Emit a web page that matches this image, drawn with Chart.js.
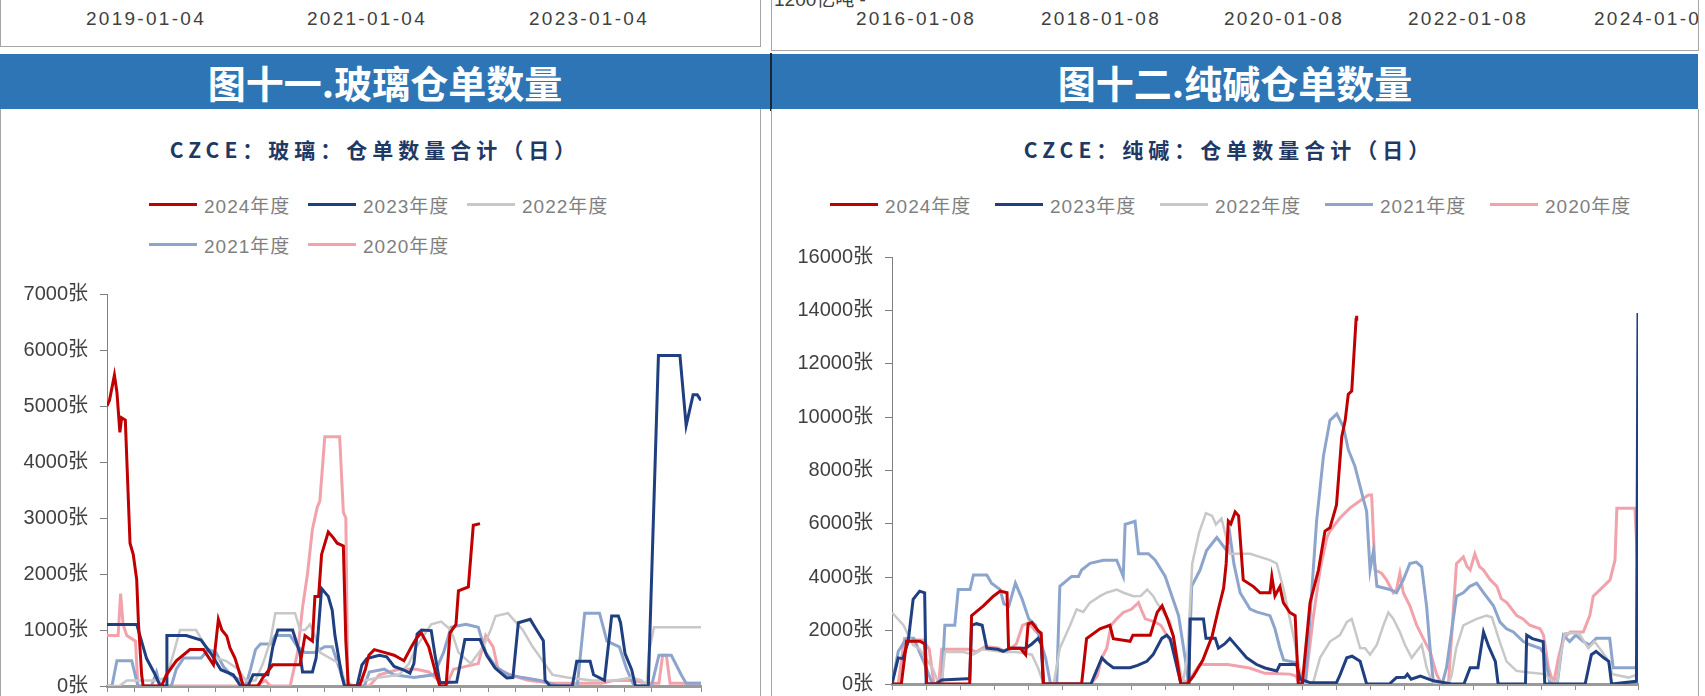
<!DOCTYPE html>
<html>
<head>
<meta charset="utf-8">
<script src="https://cdn.jsdelivr.net/npm/chart.js@4.4.1/dist/chart.umd.min.js"></script>
<style>
  body { margin: 0; width: 1705px; height: 696px; overflow: hidden; background: #fff; position: relative;
         font-family: "Liberation Sans", "Noto Sans CJK SC", sans-serif; }
  .box { position: absolute; border: 1px solid #a6a6a6; box-sizing: border-box; background: #fff; overflow: hidden; }
  .date { position: absolute; top: 27px; font-size: 19px; letter-spacing: 2.3px; color: #404040;
          transform: translateX(-50%); white-space: nowrap; }
  .bar { position: absolute; top: 54px; height: 55px; background: #2e75b6; color: #fff;
         font: bold 38px "Noto Sans CJK SC", sans-serif; display: flex; align-items: center; justify-content: center; }
  .ctitle { position: absolute; top: 134px; transform: translateX(-50%); white-space: nowrap;
            font: bold 21px "Noto Sans CJK SC", serif; letter-spacing: 5px; color: #1f3864; }
  .leg { position: absolute; height: 24px; display: flex; align-items: center; white-space: nowrap; }
  .leg i { display: inline-block; width: 48px; height: 3px; margin-right: 7px; }
  .leg span { font-size: 19px; letter-spacing: 1px; color: #808080; }
  canvas { position: absolute; }
</style>
</head>
<body>

<!-- previous figures, cut off at the top -->
<div class="box" style="left:0;top:-20px;width:761px;height:67px;">
  <div class="date" style="left:145px">2019-01-04</div>
  <div class="date" style="left:366px">2021-01-04</div>
  <div class="date" style="left:588px">2023-01-04</div>
</div>
<div class="box" style="left:771px;top:-20px;width:928px;height:71px;">
  <div class="date" style="left:2px;top:3px;transform:none;letter-spacing:0;">1200亿吨 -</div>
  <div class="date" style="left:144px">2016-01-08</div>
  <div class="date" style="left:329px">2018-01-08</div>
  <div class="date" style="left:512px">2020-01-08</div>
  <div class="date" style="left:696px">2022-01-08</div>
  <div class="date" style="left:882px">2024-01-08</div>
</div>

<!-- section headers -->
<div class="bar" style="left:0;width:770px;">图十一.玻璃仓单数量</div>
<div class="bar" style="left:772px;width:926px;">图十二.纯碱仓单数量</div>
<div style="position:absolute;left:770px;top:53px;width:2px;height:58px;background:#1b2633;"></div>

<!-- chart panels -->
<div class="box" style="left:0;top:109px;width:761px;height:620px;border-top:none;"></div>
<div class="box" style="left:771px;top:109px;width:928px;height:620px;border-top:none;"></div>

<div class="ctitle" style="left:375px">CZCE：玻璃：仓单数量合计（日）</div>
<div class="ctitle" style="left:1229px">CZCE：纯碱：仓单数量合计（日）</div>

<div id="legend-glass"></div>
<div id="legend-soda"></div>

<canvas id="chart-glass" width="704" height="440" style="left:0;top:270px;"></canvas>
<canvas id="chart-soda" width="870" height="475" style="left:772px;top:233px;"></canvas>

<script>
// ============================================================
//  玻璃 / 纯碱 仓单数量 — seasonal charts (x = trading day of season)
// ============================================================

// ---- Series names & colours ----
const seasonNames = ['2024年度', '2023年度', '2022年度', '2021年度', '2020年度'];
const seasonColors = ['#c00000', '#1f3f80', '#c8c8c8', '#8da5cd', '#f2a2ab'];
const seasonWidths = [3, 3, 2.5, 3, 3];

// ---- Glass (玻璃) — [day, 张] ----
const glass2024 = [[0,5000],[1,5100],[3,5550],[4,5250],[5.2,4530],[5.9,4790],[7.4,4750],[9.3,2550],[10.6,2350],[12,1900],[12.7,1130],[14,200],[14.6,0],[22,0],[24,200],[28,450],[33.5,650],[39,650],[43,380],[45,1190],[46.4,1000],[48.4,890],[49.7,680],[51.7,500],[53.7,215],[55,0],[61,0],[63,150],[67,380],[78,380],[80,900],[83,800],[84,1600],[85.5,1600],[86.7,2350],[89.4,2750],[91.4,2650],[93,2550],[95.5,2500],[96.5,800],[97.5,0],[102,0],[104.4,300],[105.8,550],[108,650],[112,600],[116,550],[120,450],[123,700],[125,850],[127,950],[130,700],[133,200],[134.5,0],[137,0],[138.6,950],[141,1100],[142,1700],[146,1770],[148,2870],[150.7,2900]];
const glass2023 = [[0,1100],[12,1100],[16,490],[19.5,200],[21.5,0],[24,0],[24.2,900],[32,900],[38,820],[42,580],[46,290],[51,200],[54,0],[57,0],[59,200],[65,200],[67,700],[69,1000],[75,1000],[78,580],[79,250],[83,250],[84.5,500],[86.7,1740],[89.4,1600],[91,1350],[92.1,900],[94.8,200],[96,0],[101,0],[103,375],[105,490],[110,550],[113,520],[116,350],[119.7,290],[122.4,230],[124,400],[125.3,930],[127.1,1000],[131,990],[132.5,560],[134.5,60],[141.3,70],[144.6,830],[150.7,830],[153.4,550],[156.8,320],[161.5,145],[164,150],[166.2,1130],[171,1190],[173.6,1000],[176.3,810],[177,105],[179,0],[188,0],[189.8,440],[195.2,440],[196.6,200],[201,100],[203.9,1250],[206.6,1250],[207.5,1130],[209.3,580],[212,290],[213.5,0],[218.7,0],[222.8,5900],[231.5,5900],[234,4650],[236.8,5200],[238.5,5200],[240,5100]];
const glass2022 = [[0,0],[5,0],[8,100],[20,100],[24,150],[27,600],[29.5,1000],[36,1000],[40,700],[44,500],[48,450],[53,300],[56,100],[60,100],[63,400],[66,800],[68,1300],[76,1300],[78,1000],[80,1000],[82,1100],[84,900],[86,600],[90,500],[94,400],[96,100],[100,0],[104,100],[110,150],[118,200],[122,400],[125,700],[128,900],[131,1100],[135,1150],[139,1000],[142,600],[147,400],[152,700],[155,1000],[157,1250],[162,1300],[164,1200],[168,1000],[172,700],[176,450],[180,200],[186,150],[196,100],[205,100],[212,150],[216,100],[218,0],[219,600],[221,1050],[240,1050]];
const glass2021 = [[0,0],[2,0],[4,450],[10,450],[12.5,0],[18,0],[20,250],[21.5,0],[26,0],[28,300],[31,500],[38,500],[41,650],[44,600],[47,350],[50,200],[54,100],[56,0],[58,300],[60,650],[62,750],[66,750],[68,900],[74,900],[77,700],[80,600],[84,600],[88,700],[91,700],[94,300],[96,0],[104,0],[106,250],[112,300],[116,200],[124,150],[132,200],[136,600],[139,1050],[145,1100],[150,1050],[153,600],[157,350],[162,200],[168,150],[175,100],[182,0],[190,0],[193,1300],[199,1300],[202,800],[207,700],[210,300],[213,0],[220,0],[223,550],[228,550],[232,200],[234,50],[240,50]];
const glass2020 = [[0,900],[4.5,900],[5.5,1650],[6.5,1100],[8,900],[11.5,800],[12.5,0],[60,0],[64,100],[66,0],[74,0],[77,600],[79,1400],[81,2000],[83,2800],[85,3200],[86,3300],[88,4450],[94,4450],[95.5,3100],[96.5,3000],[97.3,0],[106,0],[110,200],[118,300],[125,300],[130,250],[134,100],[137,0],[140,300],[145,350],[150,400],[153,900],[156,700],[158,300],[163,200],[170,100],[180,50],[200,50],[205,100],[212,100],[218,50],[223,50],[224.5,550],[226,550],[227.5,50],[240,50]];

// ---- Soda ash (纯碱) — [day, 张] ----
const soda2024 = [[0,0],[3,0],[4.7,1600],[9,1600],[10.5,1500],[11.2,0],[25,0],[25.6,2560],[29.4,2930],[32.6,3290],[34.8,3480],[37,3420],[37.5,1340],[41.3,1340],[43,1100],[43.8,2250],[45,2300],[47,2000],[48,1900],[48.7,0],[61,0],[62.6,1700],[66.9,2070],[70.1,2200],[71.2,1700],[76.6,1600],[77.5,1830],[83.1,1830],[85.3,2680],[86.9,2930],[88.6,2440],[90.5,1800],[92.9,0],[95,0],[97,300],[100,900],[103,1800],[105,2800],[106.7,3600],[107.5,4500],[108.2,6100],[109,6000],[110.4,6450],[111.5,6300],[113,3900],[116.3,3650],[118.4,3420],[121.6,3420],[122.2,4030],[123.2,3300],[124.8,3650],[125.9,3050],[128,2680],[129.7,2560],[130.7,0],[132,0],[134.5,3050],[137.2,4270],[139.3,5730],[140.9,5850],[143,6710],[144.7,9270],[145.8,9880],[146.8,10860],[147.9,10980],[149.3,13670],[149.5,13800]];
const soda2023 = [[0,0],[2,980],[3.5,950],[5.2,1590],[6.8,3170],[8.9,3480],[10.5,3420],[11,0],[14,0],[16,150],[24,200],[25,200],[25.6,2200],[27.2,2260],[29,2200],[30.5,1340],[34,1300],[35.8,1220],[38,1340],[43,1340],[45,1500],[47,1710],[48,1500],[48.7,0],[64,0],[67.5,980],[69,800],[71.2,610],[76.6,610],[79,700],[82,850],[84,1100],[86.8,1710],[88.4,1830],[89.5,1700],[93,0],[95.5,0],[95.9,2440],[100.2,2440],[101,1710],[104,1710],[105,1340],[107,1500],[108.7,1710],[111,1400],[114.1,980],[117.3,730],[120,600],[123.8,490],[124.8,730],[130.2,730],[131.3,180],[134.5,50],[143,50],[144,300],[146.3,980],[148,1040],[150.6,850],[152.7,0],[160,0],[162.3,240],[165,250],[165.8,370],[167,180],[170,300],[174.2,120],[180,0],[184,0],[186,610],[188.5,610],[190.3,1950],[192,1400],[194.1,850],[195,0],[203.8,0],[204.2,1830],[206,1700],[209.5,1590],[210,0],[223,0],[225,1100],[226.5,1220],[229,980],[230.6,850],[231.5,0],[239.5,100],[240,13900]];
const soda2022 = [[0,2680],[3.7,2200],[6.8,1460],[9,1300],[13.2,560],[15,0],[16,0],[17,1200],[23,1200],[26,1100],[29,1300],[36,1200],[40,1200],[45,1100],[47,600],[48.8,0],[52,0],[54,1340],[57.3,2200],[59.4,2800],[61.5,2700],[63.7,3050],[66.9,3290],[69,3420],[72.3,3540],[74.5,3420],[77.7,3290],[80,3300],[82.1,3540],[84,3300],[85.2,3050],[87.4,2680],[89.5,2320],[92.8,490],[93.5,0],[95,1000],[96.6,4520],[98.8,5670],[101,6400],[103,6300],[104.2,5980],[106,6200],[107.5,5500],[108.7,4880],[115.2,4880],[121.6,4640],[123.8,4510],[126,3540],[128,2440],[129.5,1590],[131,610],[132.7,0],[134,0],[135.6,100],[137.7,980],[140.9,1590],[144.1,1830],[146.3,2320],[147.9,2440],[150.6,1350],[152.2,1340],[153.8,1100],[156,1470],[158.1,2200],[159.7,2680],[161.3,2440],[163.4,1950],[165,1470],[167.2,980],[170.4,1470],[172,610],[173.6,120],[175,0],[179,0],[180,300],[181.5,1340],[183.8,2200],[188.1,2440],[191.3,2560],[193,2500],[195.5,1590],[197.7,850],[200.9,490],[205,430],[210,370],[212,150],[214,0],[215,1000],[216.5,1900],[221,1900],[224,1340],[226,1590],[229.9,980],[231.8,370],[237,240],[240,370]];
const soda2021 = [[0,0],[2,1220],[4.7,1710],[7,1710],[11,610],[13,0],[16,0],[17,2200],[20.2,2200],[21.3,3540],[25.1,3540],[26.2,4080],[30.5,4080],[32,3780],[34.8,3540],[36,3000],[37.6,2920],[39.7,3780],[41.9,3170],[44,2440],[46.2,2200],[47.5,1710],[49.4,980],[51,0],[53,0],[54,3660],[57.8,4030],[60,4030],[61,4270],[63.7,4520],[68,4640],[72.3,4640],[74.4,4030],[75,5980],[78.2,6100],[79.3,4880],[82.5,4880],[84.7,4640],[87.9,4030],[92.2,2560],[94.3,980],[95.4,0],[96.4,3660],[99.1,4270],[101.2,5000],[104.5,5490],[107.7,5000],[108.7,5610],[110,4500],[112,3420],[115.2,2810],[117.3,2700],[121.6,2560],[123.2,2070],[124.8,1340],[126,900],[130,800],[131.5,0],[133,0],[134.5,2560],[136.6,6100],[138.8,8540],[140.9,9880],[143.1,10120],[145.2,9640],[146.8,8780],[148.9,8170],[151.6,6950],[152.7,6470],[153.8,4270],[154.9,5000],[156,3660],[160.2,3540],[162.3,3420],[164.5,3900],[166.6,4510],[168.7,4570],[170.4,4390],[172,2900],[173.1,1340],[174.2,0],[177,0],[178.4,610],[181.6,3290],[183.8,3420],[185.9,3660],[188.1,3780],[190.3,3420],[193.5,2930],[195.6,2320],[197.7,2070],[199.9,1950],[203.1,1590],[205.3,1470],[208.5,1340],[210,1100],[211.7,0],[214,0],[216,1830],[218,1590],[220,1830],[222.4,1590],[224.5,1470],[226.6,1710],[230.9,1710],[232,610],[239,610],[240,730]];
const soda2020 = [[0,0],[2,0],[4,1700],[8,1650],[10,1650],[12,1300],[13.5,0],[15,0],[16,1300],[25,1300],[27,1200],[30,1400],[34,1350],[37,1200],[40,1500],[42,2200],[44,2300],[46,2000],[48,1800],[48.8,0],[64,0],[66,300],[67.5,980],[69.1,1340],[70.5,2200],[72.3,2440],[74.4,2680],[77,2800],[79.3,3050],[80.5,2700],[81.5,2440],[84.7,2320],[86.5,2200],[88.4,1830],[91,1340],[92,490],[93,0],[96,200],[99,730],[108,730],[115,600],[120,400],[128,370],[130,300],[131,0],[133,50],[135.6,2560],[137.7,4270],[139.9,5490],[140.9,5730],[144.1,6220],[147.3,6590],[151.6,6950],[153.3,7080],[154.3,7080],[155.4,4270],[157.5,4150],[159.1,3900],[161.3,3420],[162.3,3540],[163.4,4150],[164.5,3420],[166.6,2930],[168.8,2200],[170.9,1710],[173.1,1220],[175.2,370],[176.8,0],[179,0],[181.6,4510],[183.8,4760],[185,4400],[186,4270],[187.5,4880],[189,4400],[190.3,4270],[192.5,3900],[194.6,3660],[196,3200],[197.8,3050],[201,2560],[203,2440],[205.2,2200],[208.5,2070],[209.6,1830],[211.2,610],[212.8,0],[214.4,980],[216,1710],[218.2,1950],[222.4,1950],[224.5,2560],[225.6,3290],[228.9,3660],[231,3900],[232.6,4640],[233.2,6590],[239,6590],[240,4270]];

// ---- Axis settings ----
const dayMax = 240;
const glassMax = 7000, glassStep = 1000;
const sodaMax = 16000, sodaStep = 2000;

Chart.defaults.font.family = "'Liberation Sans', 'Noto Sans CJK SC', sans-serif";

// ---- HTML legend ----
function makeLegend(id, spots) {
  const el = document.getElementById(id);
  el.innerHTML = seasonNames.map((name, i) => `
    <div class="leg" style="left:${spots[i][0]}px;top:${spots[i][1] - 12}px">
      <i style="background:${seasonColors[i]}"></i><span>${name}</span>
    </div>`).join('');
}
makeLegend('legend-glass', [[149, 204], [308, 204], [467, 204], [149, 244], [308, 244]]);
makeLegend('legend-soda', [[830, 204], [995, 204], [1160, 204], [1325, 204], [1490, 204]]);

// ---- Chart builder ----
function makeSeasonChart(canvasId, seriesList, yMax, yStep, yAxisWidth, padRight) {
  const datasets = seriesList.map((pts, i) => ({
    label: seasonNames[i],
    data: pts.map(p => ({ x: p[0], y: p[1] })),
    borderColor: seasonColors[i],
    borderWidth: seasonWidths[i],
    pointRadius: 0,
    tension: 0,
    fill: false,
  }));

  return new Chart(document.getElementById(canvasId), {
    type: 'line',
    data: { datasets },
    options: {
      responsive: false,
      animation: false,
      devicePixelRatio: 1,
      layout: { padding: { top: 20, right: padRight, left: 0, bottom: 0 } },
      plugins: { legend: { display: false }, tooltip: { enabled: false } },
      scales: {
        x: {
          type: 'linear',
          min: 0,
          max: dayMax,
          ticks: { display: false, stepSize: 11 },
          grid: { drawOnChartArea: false, drawTicks: true, tickLength: 6, color: '#8c8c8c' },
          border: { display: true, color: '#9a9a9a', width: 3 },
          afterFit: (s) => { s.height = 18; }
        },
        y: {
          min: 0,
          max: yMax,
          ticks: {
            stepSize: yStep,
            color: '#404040',
            font: { size: 20 },
            padding: 12,
            callback: (v) => v + '张'
          },
          grid: { drawOnChartArea: false, drawTicks: true, tickLength: 7, color: '#808080' },
          border: { display: true, color: '#808080', width: 1 },
          afterFit: (s) => { s.width = yAxisWidth; }
        }
      }
    }
  });
}

makeSeasonChart('chart-glass', [glass2024, glass2023, glass2022, glass2021, glass2020], glassMax, glassStep, 107, 3);
makeSeasonChart('chart-soda', [soda2024, soda2023, soda2022, soda2021, soda2020], sodaMax, sodaStep, 120, 4);
</script>
</body>
</html>
